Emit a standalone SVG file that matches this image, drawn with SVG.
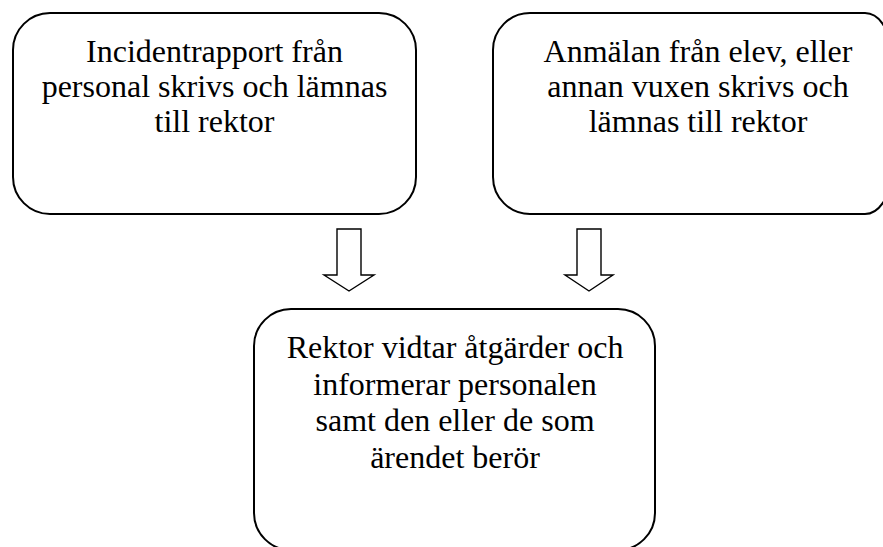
<svg xmlns="http://www.w3.org/2000/svg" width="883" height="547" viewBox="0 0 883 547">
<style>
.box{fill:#fff;stroke:#000;stroke-width:2}
.arr{fill:#fff;stroke:#000;stroke-width:1.4;stroke-linejoin:miter}
text{font-family:'Liberation Serif','Times New Roman',Times,serif;font-size:32px;fill:#000;text-anchor:middle}
</style>
<rect width="883" height="547" fill="#fff"/>
<g id="connectors">
<polygon class="arr" points="337,229 361,229 361,275 374,275 349,291 324,275 337,275"/>
<polygon class="arr" points="577,229 601,229 601,275 613,275 589,291 565,275 577,275"/>
</g>
<g id="node-incident" font-family="Liberation Serif, serif">
<rect class="box" x="13" y="13" width="403" height="201" rx="37" ry="37"/>
<text x="214.5" y="62">Incidentrapport från</text>
<text x="214.5" y="97">personal skrivs och lämnas</text>
<text x="214.5" y="132">till rektor</text>
</g>
<g id="node-anmalan" font-family="Liberation Serif, serif">
<path class="box" d="M530,13 H865 A25 37 0 0 1 890,50 V177 A25 37 0 0 1 865,214 H530 A37 37 0 0 1 493,177 V50 A37 37 0 0 1 530,13 Z"/>
<text x="698" y="62">Anmälan från elev, eller</text>
<text x="698" y="97">annan vuxen skrivs och</text>
<text x="698" y="132">lämnas till rektor</text>
</g>
<g id="node-rektor" font-family="Liberation Serif, serif">
<rect class="box" x="254" y="309" width="401" height="241" rx="37" ry="37"/>
<text x="455" y="358">Rektor vidtar åtgärder och</text>
<text x="455" y="394.5">informerar personalen</text>
<text x="455" y="431">samt den eller de som</text>
<text x="455" y="467.5">ärendet berör</text>
</g>
</svg>
